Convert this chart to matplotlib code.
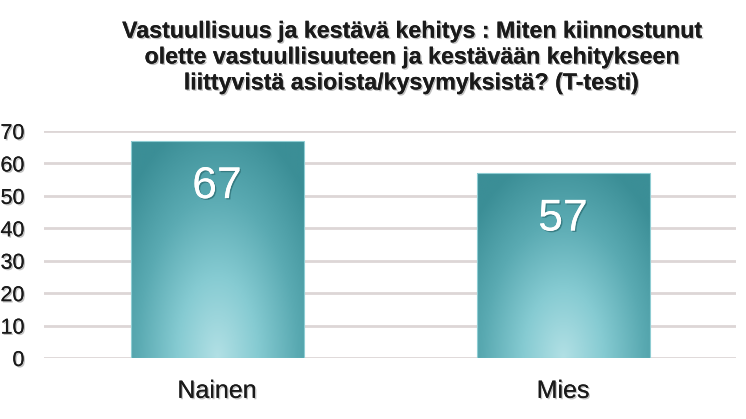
import numpy as np
import matplotlib.pyplot as plt
import matplotlib.patheffects as pe
from matplotlib.colors import LinearSegmentedColormap

categories = ['Nainen', 'Mies']
values = [67, 57]
yticks = [0, 10, 20, 30, 40, 50, 60, 70]
title = ('Vastuullisuus ja kestävä kehitys : Miten kiinnostunut\n'
         'olette vastuullisuuteen ja kestävään kehitykseen\n'
         'liittyvistä asioista/kysymyksistä? (T-testi)')

plt.rcParams['font.family'] = ['Liberation Sans', 'DejaVu Sans']

fig = plt.figure(figsize=(7.46, 4.19), dpi=100)
ax = fig.add_axes([44 / 746, 61 / 419, 692 / 746, 227 / 419])

shadow = [pe.withSimplePatchShadow(offset=(1, -1), shadow_rgbFace='#999999', alpha=0.6), pe.Normal()]

# gradient: light at bottom centre, dark teal at top
cmap = LinearSegmentedColormap.from_list('teal', ['#b2e0e5', '#86cbd2', '#5aaab2', '#3b8e96'])
gx, gy = np.meshgrid(np.linspace(-1, 1, 200), np.linspace(0, 1, 200))
dist = np.sqrt((gx * 0.8) ** 2 + gy ** 2)
dist = np.clip(dist / dist.max() * 1.15, 0, 1)

width = 0.5
x = np.arange(len(categories))
bars = ax.bar(x, values, width=width, color='none', edgecolor='#8fcdd3', linewidth=0.8, zorder=3)
for b, v in zip(bars, values):
    x0, x1 = b.get_x(), b.get_x() + b.get_width()
    im = ax.imshow(dist, extent=[x0, x1, 0, v], origin='lower', cmap=cmap,
                   aspect='auto', zorder=2, vmin=0, vmax=1)
    im.set_clip_path(b)
    ax.annotate(str(v), (b.get_x() + b.get_width() / 2, v), xytext=(0, -33),
                textcoords='offset points', ha='center', va='center',
                fontsize=32, color='white', zorder=4,
                path_effects=[pe.withSimplePatchShadow(offset=(1, -1), shadow_rgbFace='#2a6a70', alpha=0.7), pe.Normal()])

ax.set_xlim(-0.5, 1.5)
ax.set_ylim(0, 70)
ax.set_yticks(yticks)
ax.set_xticks(x)
ax.set_xticklabels(categories, fontsize=18, color='#1a1a1a')
for lbl in ax.get_yticklabels():
    lbl.set_fontsize(15.5)
    lbl.set_color('#1a1a1a')
for lbl in ax.get_xticklabels() + ax.get_yticklabels():
    lbl.set_path_effects(shadow)
ax.tick_params(axis='both', length=0)
ax.tick_params(axis='y', pad=14)
ax.tick_params(axis='x', pad=15)
ax.grid(axis='y', color='#ddd6d6', linewidth=2, zorder=0)
for s in ax.spines.values():
    s.set_visible(False)

fig.text(410 / 746, 1 - 57 / 419, title, ha='center', va='center', fontsize=16.7,
         fontweight='bold', color='#1a1a1a', linespacing=1.16, path_effects=shadow)

fig.savefig('out.png', dpi=100)
